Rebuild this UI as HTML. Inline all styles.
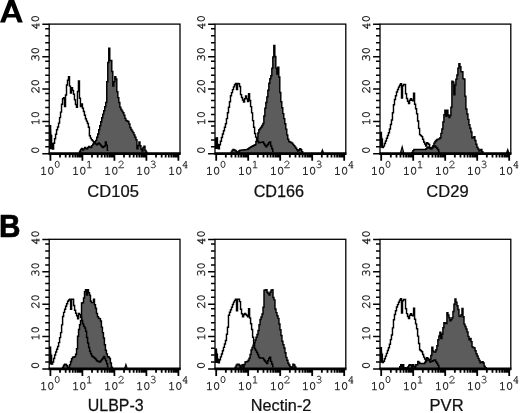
<!DOCTYPE html>
<html><head><meta charset="utf-8"><title>Flow cytometry histograms</title>
<style>html,body{margin:0;padding:0;background:#fff;}body{width:520px;height:413px;overflow:hidden;font-family:"Liberation Sans",sans-serif;}svg{display:block;will-change:transform;filter:grayscale(1);}.s{font-family:"Liberation Sans",sans-serif;fill:#111;}.b{font-family:"Liberation Sans",sans-serif;font-weight:bold;fill:#000;}</style></head><body>
<svg width="520" height="413" viewBox="0 0 520 413">
<rect width="520" height="413" fill="#fff"/>
<defs><g id="d0" fill="none" stroke="#2a2a2a" stroke-width="1.05" stroke-linecap="butt" stroke-linejoin="round"><ellipse cx="3.6" cy="-3.75" rx="2.2" ry="3.5"/></g><g id="d1" fill="none" stroke="#2a2a2a" stroke-width="1.05" stroke-linecap="butt" stroke-linejoin="round"><path d="M1.4 -5.9L3.7 -7.35V0M1.3 0H6.1"/></g><g id="d2" fill="none" stroke="#2a2a2a" stroke-width="1.05" stroke-linecap="butt" stroke-linejoin="round"><path d="M1.2 -5.3C1.2 -8 5.7 -8 5.7 -5.3C5.7 -3.5 2.5 -2.2 0.9 0H6V-0.9"/></g><g id="d3" fill="none" stroke="#2a2a2a" stroke-width="1.05" stroke-linecap="butt" stroke-linejoin="round"><path d="M1.3 -6.5C2.2 -7.9 5.6 -7.8 5.6 -5.6C5.6 -4.2 4.2 -3.9 3 -3.9C4.4 -3.9 6 -3.4 6 -1.9C6 0.4 2 0.5 0.9 -0.9"/></g><g id="d4" fill="none" stroke="#2a2a2a" stroke-width="1.05" stroke-linecap="butt" stroke-linejoin="round"><path d="M4.6 0V-7.3L1 -2.2H6.1M3.2 0H5.9"/></g></defs>
<path fill="#000" fill-rule="evenodd" d="M0 22.4H5L6.94 17.4H15.88L17.8 22.4H22.8L13.82 -1H9.09ZM8.28 13.95H14.56L11.43 5.8Z"/>
<text class="b" transform="translate(-1.05,237.4) scale(0.944,1)" x="0" y="0" font-size="31.5" stroke="#000" stroke-width="0.7">B</text>
<g><path d="M79.60 153.60V151.32H80.61V149.39H81.61V148.50H82.62V150.00H83.62V148.96H84.63V147.50H85.64V148.35H86.64V149.00H87.65V147.56H88.65V146.50H89.66V147.08H90.67V147.50H91.67V145.63H92.68V144.22H93.68V143.00H94.69V141.79H95.70V140.39H96.70V137.18H97.71V133.96H98.71V129.83H99.72V125.71H100.73V121.69H101.73V117.66H102.74V114.14H103.74V110.71H104.75V106.73H105.76V102.45H106.76V81.70H107.77V62.51H108.77V48.10H109.78V60.40H110.79V60.40H111.79V71.47H112.80V86.10H113.80V81.73H114.81V76.60H115.81V78.99H116.82V91.74H117.83V97.63H118.83V102.48H119.84V107.34H120.84V109.47H121.85V111.10H122.86V112.73H123.86V115.11H124.87V118.37H125.87V120.58H126.88V121.07H127.89V121.55H128.89V124.06H129.90V127.49H130.90V129.57H131.91V131.10H132.92V132.64H133.92V134.89H134.93V137.15H135.93V139.75H136.94V148.80H137.95V145.57H138.95V142.00H139.96V145.78H140.96V148.98H141.97V150.90H142.98V147.49H143.98V146.10H144.99V150.57H145.99V152.25H147.00V153.60Z" fill="#5c5c5c" stroke="#000" stroke-width="1.45" stroke-linejoin="miter"/>
<path d="M49.60 125.80H50.59V135.50H51.59V143.40H52.58V149.00H53.58V143.32H54.57V138.84H55.57V134.28H56.56V129.83H57.56V127.09H58.55V123.11H59.55V117.62H60.54V112.13H61.54V104.19H62.53V98.77H63.53V97.80H64.52V106.60H65.52V94.98H66.51V84.95H67.51V80.15H68.50V76.80H69.50V86.13H70.49V93.00H71.49V87.60H72.48V90.37H73.48V94.31H74.47V99.79H75.47V104.42H76.46V107.30H77.46V91.52H78.45V80.90H79.45V98.23H80.44V106.60H81.44V104.00H82.43V108.24H83.43V111.54H84.42V115.27H85.42V118.71H86.41V121.10H87.41V123.53H88.40V127.29H89.40V135.70H90.39V138.11H91.39V139.80H92.38V140.88H93.38V141.87H94.37V142.87H95.37V143.86H96.36V144.80H97.36V143.94H98.35V143.00H99.35V143.97H100.34V145.12H101.34V146.27H102.33V147.50H103.33V146.84H104.32V146.13H105.32V142.00H106.31V145.10H107.31V150.29H108.30" fill="none" stroke="#000" stroke-width="1.45" stroke-linejoin="miter"/>
<polygon points="49.2,125.3 50.8,125.3 51.6,138.0 52.6,149.3 49.2,149.3" fill="#000"/>
<rect x="49.2" y="24.1" width="130.8" height="129.5" fill="none" stroke="#000" stroke-width="1.3"/>
<line x1="48.6" y1="153.6" x2="180.6" y2="153.6" stroke="#000" stroke-width="2.7"/>
<path d="M42.3 153.80h6.9M45.2 146.85h4.0M45.2 139.90h4.0M45.2 132.95h4.0M45.2 126.00h4.0M42.3 121.42h6.9M45.2 114.47h4.0M45.2 107.52h4.0M45.2 100.57h4.0M45.2 93.62h4.0M42.3 89.05h6.9M45.2 82.10h4.0M45.2 75.15h4.0M45.2 68.20h4.0M45.2 61.25h4.0M42.3 56.67h6.9M45.2 49.72h4.0M45.2 42.77h4.0M45.2 35.82h4.0M45.2 28.87h4.0M42.3 24.30h6.9" stroke="#000" stroke-width="1.5" fill="none"/>
<path d="M50.40 153.6v7.2M60.03 153.6v4.0M65.67 153.6v4.0M69.67 153.6v4.0M72.77 153.6v4.0M75.30 153.6v4.0M77.44 153.6v4.0M79.30 153.6v4.0M80.94 153.6v4.0M82.40 153.6v7.2M92.03 153.6v4.0M97.67 153.6v4.0M101.67 153.6v4.0M104.77 153.6v4.0M107.30 153.6v4.0M109.44 153.6v4.0M111.30 153.6v4.0M112.94 153.6v4.0M114.40 153.6v7.2M124.03 153.6v4.0M129.67 153.6v4.0M133.67 153.6v4.0M136.77 153.6v4.0M139.30 153.6v4.0M141.44 153.6v4.0M143.30 153.6v4.0M144.94 153.6v4.0M146.40 153.6v7.2M156.03 153.6v4.0M161.67 153.6v4.0M165.67 153.6v4.0M168.77 153.6v4.0M171.30 153.6v4.0M173.44 153.6v4.0M175.30 153.6v4.0M176.94 153.6v4.0M178.40 153.6v7.2" stroke="#000" stroke-width="1.8" fill="none"/>
<g transform="translate(39.00,150.20) rotate(-90)"><use href="#d0" x="-3.60"/></g>
<g transform="translate(39.00,118.22) rotate(-90)"><use href="#d1" x="-7.20"/><use href="#d0" x="0.00"/></g>
<g transform="translate(39.00,86.25) rotate(-90)"><use href="#d2" x="-7.20"/><use href="#d0" x="0.00"/></g>
<g transform="translate(39.00,54.27) rotate(-90)"><use href="#d3" x="-7.20"/><use href="#d0" x="0.00"/></g>
<g transform="translate(39.00,22.30) rotate(-90)"><use href="#d4" x="-7.20"/><use href="#d0" x="0.00"/></g>
<g transform="translate(40.00,174.50)"><use href="#d1" x="0.00"/><use href="#d0" x="7.20"/></g>
<g transform="translate(53.90,167.80) scale(0.920)"><use href="#d0" x="0.00"/></g>
<g transform="translate(72.00,174.50)"><use href="#d1" x="0.00"/><use href="#d0" x="7.20"/></g>
<g transform="translate(85.90,167.80) scale(0.920)"><use href="#d1" x="0.00"/></g>
<g transform="translate(104.00,174.50)"><use href="#d1" x="0.00"/><use href="#d0" x="7.20"/></g>
<g transform="translate(117.90,167.80) scale(0.920)"><use href="#d2" x="0.00"/></g>
<g transform="translate(136.00,174.50)"><use href="#d1" x="0.00"/><use href="#d0" x="7.20"/></g>
<g transform="translate(149.90,167.80) scale(0.920)"><use href="#d3" x="0.00"/></g>
<g transform="translate(168.00,174.50)"><use href="#d1" x="0.00"/><use href="#d0" x="7.20"/></g>
<g transform="translate(181.90,167.80) scale(0.920)"><use href="#d4" x="0.00"/></g>
<text class="s" font-size="16.5" text-anchor="middle" stroke="#111" stroke-width="0.25" transform="translate(113.10,196.70) scale(1.003,1)" x="0" y="0">CD105</text></g>
<g><path d="M231.00 153.60V152.13H232.00V150.39H232.99V149.50H233.99V149.87H234.98V150.48H235.98V151.48H236.97V152.06H237.97V152.20H238.97V150.72H239.96V150.16H240.96V150.10H241.95V150.03H242.95V149.95H243.95V149.83H244.94V149.72H245.94V149.60H246.93V149.41H247.93V148.74H248.93V148.07H249.92V147.39H250.92V146.74H251.91V146.26H252.91V145.77H253.90V145.29H254.90V144.80H255.90V141.58H256.89V138.36H257.89V132.89H258.88V129.77H259.88V128.51H260.88V127.26H261.87V125.40H262.87V123.46H263.86V115.92H264.86V108.23H265.85V102.42H266.85V96.98H267.85V90.32H268.84V83.26H269.84V78.76H270.83V75.72H271.83V68.24H272.82V57.06H273.82V45.40H274.82V56.51H275.81V68.11H276.81V73.90H277.80V67.10H278.80V76.90H279.80V92.58H280.79V101.77H281.79V107.84H282.78V113.62H283.78V118.63H284.77V123.65H285.77V129.10H286.77V134.89H287.76V139.20H288.76V141.47H289.75V141.93H290.75V142.40H291.75V143.13H292.74V144.36H293.74V145.60H294.73V146.85H295.73V148.30H296.72V149.76H297.72V150.90H298.72V149.96H299.71V148.80H300.71V149.81H301.70V151.80H302.70V153.60Z" fill="#5c5c5c" stroke="#000" stroke-width="1.45" stroke-linejoin="miter"/>
<polygon points="321.2,153.0 322.4,149.8 323.6,153.0" fill="#5c5c5c" stroke="#000" stroke-width="1.1"/>
<path d="M215.40 147.20H216.41V138.00H217.41V144.54H218.42V148.80H219.42V144.77H220.43V141.16H221.43V137.56H222.44V134.09H223.44V130.67H224.45V127.25H225.45V123.84H226.46V118.62H227.46V112.83H228.47V107.25H229.47V101.77H230.48V95.72H231.48V92.64H232.49V89.63H233.49V86.89H234.50V84.83H235.50V83.40H236.51V89.50H237.51V83.40H238.52V83.68H239.52V86.53H240.53V94.64H241.53V97.58H242.54V99.97H243.54V102.00H244.55V98.71H245.56V96.00H246.56V98.87H247.57V101.40H248.57V93.60H249.58V100.48H250.58V106.61H251.59V112.88H252.59V120.64H253.60V127.30H254.60V133.48H255.61V137.12H256.61V139.71H257.62V141.32H258.62V142.70H259.63V142.57H260.63V142.36H261.64V142.16H262.64V142.00H263.65V143.77H264.65V145.18H265.66V146.80H266.66V145.58H267.67V144.16H268.67V142.74H269.68V142.00H270.68V146.09H271.69V148.76H272.69V151.32H273.70" fill="none" stroke="#000" stroke-width="1.45" stroke-linejoin="miter"/>
<polygon points="215.0,137.5 217.6,137.5 218.0,144.0 218.6,149.1 215.0,149.1" fill="#000"/>
<rect x="215.0" y="24.1" width="130.8" height="129.5" fill="none" stroke="#000" stroke-width="1.3"/>
<line x1="214.4" y1="153.6" x2="346.4" y2="153.6" stroke="#000" stroke-width="2.7"/>
<path d="M208.1 153.80h6.9M211.0 146.85h4.0M211.0 139.90h4.0M211.0 132.95h4.0M211.0 126.00h4.0M208.1 121.42h6.9M211.0 114.47h4.0M211.0 107.52h4.0M211.0 100.57h4.0M211.0 93.62h4.0M208.1 89.05h6.9M211.0 82.10h4.0M211.0 75.15h4.0M211.0 68.20h4.0M211.0 61.25h4.0M208.1 56.67h6.9M211.0 49.72h4.0M211.0 42.77h4.0M211.0 35.82h4.0M211.0 28.87h4.0M208.1 24.30h6.9" stroke="#000" stroke-width="1.5" fill="none"/>
<path d="M216.20 153.6v7.2M225.83 153.6v4.0M231.47 153.6v4.0M235.47 153.6v4.0M238.57 153.6v4.0M241.10 153.6v4.0M243.24 153.6v4.0M245.10 153.6v4.0M246.74 153.6v4.0M248.20 153.6v7.2M257.83 153.6v4.0M263.47 153.6v4.0M267.47 153.6v4.0M270.57 153.6v4.0M273.10 153.6v4.0M275.24 153.6v4.0M277.10 153.6v4.0M278.74 153.6v4.0M280.20 153.6v7.2M289.83 153.6v4.0M295.47 153.6v4.0M299.47 153.6v4.0M302.57 153.6v4.0M305.10 153.6v4.0M307.24 153.6v4.0M309.10 153.6v4.0M310.74 153.6v4.0M312.20 153.6v7.2M321.83 153.6v4.0M327.47 153.6v4.0M331.47 153.6v4.0M334.57 153.6v4.0M337.10 153.6v4.0M339.24 153.6v4.0M341.10 153.6v4.0M342.74 153.6v4.0M344.20 153.6v7.2" stroke="#000" stroke-width="1.8" fill="none"/>
<g transform="translate(204.80,150.20) rotate(-90)"><use href="#d0" x="-3.60"/></g>
<g transform="translate(204.80,118.22) rotate(-90)"><use href="#d1" x="-7.20"/><use href="#d0" x="0.00"/></g>
<g transform="translate(204.80,86.25) rotate(-90)"><use href="#d2" x="-7.20"/><use href="#d0" x="0.00"/></g>
<g transform="translate(204.80,54.27) rotate(-90)"><use href="#d3" x="-7.20"/><use href="#d0" x="0.00"/></g>
<g transform="translate(204.80,22.30) rotate(-90)"><use href="#d4" x="-7.20"/><use href="#d0" x="0.00"/></g>
<g transform="translate(205.80,174.50)"><use href="#d1" x="0.00"/><use href="#d0" x="7.20"/></g>
<g transform="translate(219.70,167.80) scale(0.920)"><use href="#d0" x="0.00"/></g>
<g transform="translate(237.80,174.50)"><use href="#d1" x="0.00"/><use href="#d0" x="7.20"/></g>
<g transform="translate(251.70,167.80) scale(0.920)"><use href="#d1" x="0.00"/></g>
<g transform="translate(269.80,174.50)"><use href="#d1" x="0.00"/><use href="#d0" x="7.20"/></g>
<g transform="translate(283.70,167.80) scale(0.920)"><use href="#d2" x="0.00"/></g>
<g transform="translate(301.80,174.50)"><use href="#d1" x="0.00"/><use href="#d0" x="7.20"/></g>
<g transform="translate(315.70,167.80) scale(0.920)"><use href="#d3" x="0.00"/></g>
<g transform="translate(333.80,174.50)"><use href="#d1" x="0.00"/><use href="#d0" x="7.20"/></g>
<g transform="translate(347.70,167.80) scale(0.920)"><use href="#d4" x="0.00"/></g>
<text class="s" font-size="16.5" text-anchor="middle" stroke="#111" stroke-width="0.25" transform="translate(278.90,196.70) scale(0.983,1)" x="0" y="0">CD166</text></g>
<g><path d="M411.90 153.60V152.55H412.90V150.64H413.90V149.50H414.90V149.50H415.90V149.50H416.90V149.50H417.90V149.50H418.90V149.50H419.90V149.50H420.90V149.50H421.90V149.50H422.90V149.50H423.90V149.50H424.90V149.50H425.90V148.60H426.90V147.60H427.90V147.00H428.90V147.93H429.90V148.60H430.90V149.00H431.90V147.76H432.90V145.66H433.90V143.13H434.90V141.40H435.90V140.40H436.90V139.40H437.90V139.10H438.90V138.88H439.90V137.81H440.90V133.38H441.90V128.94H442.90V121.96H443.90V114.64H444.90V110.20H445.90V116.30H446.90V110.20H447.90V115.09H448.90V117.60H449.90V115.45H450.90V107.20H451.90V81.20H452.90V82.13H453.90V94.80H454.90V85.09H455.90V79.31H456.90V75.06H457.90V68.28H458.90V63.68H459.90V66.60H460.90V71.70H461.90V71.70H462.90V78.60H463.90V79.10H464.90V96.33H465.90V109.07H466.90V113.93H467.90V119.37H468.90V124.76H469.90V128.33H470.90V131.90H471.90V138.00H472.90V137.46H473.90V136.60H474.90V140.42H475.90V144.28H476.90V147.21H477.90V149.03H478.90V150.90H479.90V150.30H480.90V149.50H481.90V151.65H482.90V153.60Z" fill="#5c5c5c" stroke="#000" stroke-width="1.45" stroke-linejoin="miter"/>
<polygon points="400.4,153.0 402.2,146.7 403.8,153.0" fill="#5c5c5c" stroke="#000" stroke-width="1.1"/>
<polygon points="506.5,153.0 507.7,149.5 508.9,153.0" fill="#5c5c5c" stroke="#000" stroke-width="1.1"/>
<path d="M380.40 132.50H381.41V139.09H382.41V147.40H383.42V146.10H384.42V143.56H385.43V141.03H386.43V138.27H387.44V135.46H388.44V132.66H389.45V129.07H390.45V124.53H391.46V119.99H392.46V112.76H393.47V104.67H394.47V99.48H395.48V95.72H396.48V91.96H397.49V89.53H398.49V87.11H399.50V85.21H400.50V83.70H401.51V98.00H402.51V85.69H403.52V84.40H404.52V84.40H405.53V93.70H406.53V98.51H407.54V101.33H408.54V103.40H409.55V100.22H410.55V98.70H411.56V100.16H412.56V100.70H413.57V93.20H414.57V104.20H415.58V108.78H416.58V113.72H417.59V121.00H418.59V128.38H419.60V134.60H420.60V135.61H421.61V136.63H422.61V139.34H423.62V142.04H424.62V143.95H425.63V146.00H426.63V142.70H427.64V143.41H428.64V144.53H429.65V148.10H430.65V147.78H431.66V147.45H432.66V146.95H433.67V146.43H434.67V146.00H435.68V147.23H436.68V148.27H437.69V149.83H438.69V151.94H439.70" fill="none" stroke="#000" stroke-width="1.45" stroke-linejoin="miter"/>
<polygon points="380.0,132.0 381.8,132.0 382.4,141.0 383.2,147.7 380.0,147.7" fill="#000"/>
<rect x="380.0" y="24.1" width="130.8" height="129.5" fill="none" stroke="#000" stroke-width="1.3"/>
<line x1="379.4" y1="153.6" x2="511.4" y2="153.6" stroke="#000" stroke-width="2.7"/>
<path d="M373.1 153.80h6.9M376.0 146.85h4.0M376.0 139.90h4.0M376.0 132.95h4.0M376.0 126.00h4.0M373.1 121.42h6.9M376.0 114.47h4.0M376.0 107.52h4.0M376.0 100.57h4.0M376.0 93.62h4.0M373.1 89.05h6.9M376.0 82.10h4.0M376.0 75.15h4.0M376.0 68.20h4.0M376.0 61.25h4.0M373.1 56.67h6.9M376.0 49.72h4.0M376.0 42.77h4.0M376.0 35.82h4.0M376.0 28.87h4.0M373.1 24.30h6.9" stroke="#000" stroke-width="1.5" fill="none"/>
<path d="M381.20 153.6v7.2M390.83 153.6v4.0M396.47 153.6v4.0M400.47 153.6v4.0M403.57 153.6v4.0M406.10 153.6v4.0M408.24 153.6v4.0M410.10 153.6v4.0M411.74 153.6v4.0M413.20 153.6v7.2M422.83 153.6v4.0M428.47 153.6v4.0M432.47 153.6v4.0M435.57 153.6v4.0M438.10 153.6v4.0M440.24 153.6v4.0M442.10 153.6v4.0M443.74 153.6v4.0M445.20 153.6v7.2M454.83 153.6v4.0M460.47 153.6v4.0M464.47 153.6v4.0M467.57 153.6v4.0M470.10 153.6v4.0M472.24 153.6v4.0M474.10 153.6v4.0M475.74 153.6v4.0M477.20 153.6v7.2M486.83 153.6v4.0M492.47 153.6v4.0M496.47 153.6v4.0M499.57 153.6v4.0M502.10 153.6v4.0M504.24 153.6v4.0M506.10 153.6v4.0M507.74 153.6v4.0M509.20 153.6v7.2" stroke="#000" stroke-width="1.8" fill="none"/>
<g transform="translate(369.80,150.20) rotate(-90)"><use href="#d0" x="-3.60"/></g>
<g transform="translate(369.80,118.22) rotate(-90)"><use href="#d1" x="-7.20"/><use href="#d0" x="0.00"/></g>
<g transform="translate(369.80,86.25) rotate(-90)"><use href="#d2" x="-7.20"/><use href="#d0" x="0.00"/></g>
<g transform="translate(369.80,54.27) rotate(-90)"><use href="#d3" x="-7.20"/><use href="#d0" x="0.00"/></g>
<g transform="translate(369.80,22.30) rotate(-90)"><use href="#d4" x="-7.20"/><use href="#d0" x="0.00"/></g>
<g transform="translate(370.80,174.50)"><use href="#d1" x="0.00"/><use href="#d0" x="7.20"/></g>
<g transform="translate(384.70,167.80) scale(0.920)"><use href="#d0" x="0.00"/></g>
<g transform="translate(402.80,174.50)"><use href="#d1" x="0.00"/><use href="#d0" x="7.20"/></g>
<g transform="translate(416.70,167.80) scale(0.920)"><use href="#d1" x="0.00"/></g>
<g transform="translate(434.80,174.50)"><use href="#d1" x="0.00"/><use href="#d0" x="7.20"/></g>
<g transform="translate(448.70,167.80) scale(0.920)"><use href="#d2" x="0.00"/></g>
<g transform="translate(466.80,174.50)"><use href="#d1" x="0.00"/><use href="#d0" x="7.20"/></g>
<g transform="translate(480.70,167.80) scale(0.920)"><use href="#d3" x="0.00"/></g>
<g transform="translate(498.80,174.50)"><use href="#d1" x="0.00"/><use href="#d0" x="7.20"/></g>
<g transform="translate(512.70,167.80) scale(0.920)"><use href="#d4" x="0.00"/></g>
<text class="s" font-size="16.5" text-anchor="middle" stroke="#111" stroke-width="0.25" transform="translate(447.50,196.70) scale(1.003,1)" x="0" y="0">CD29</text></g>
<g><path d="M62.60 368.80V367.23H63.60V365.28H64.59V364.10H65.59V364.59H66.58V365.73H67.58V368.20H68.58V367.15H69.57V364.63H70.57V361.41H71.56V358.83H72.56V357.24H73.56V357.02H74.55V356.80H75.55V354.32H76.54V348.82H77.54V336.33H78.54V329.42H79.53V324.72H80.53V320.80H81.52V303.08H82.52V302.79H83.52V297.94H84.51V291.67H85.51V289.70H86.50V295.10H87.50V289.70H88.50V292.62H89.49V295.10H90.49V301.18H91.48V302.60H92.48V302.60H93.48V299.20H94.47V304.83H95.47V308.18H96.46V313.35H97.46V316.64H98.46V318.31H99.45V318.61H100.45V320.95H101.44V327.14H102.44V332.61H103.44V338.04H104.43V344.71H105.43V350.27H106.42V353.87H107.42V356.67H108.42V357.07H109.41V358.55H110.41V362.99H111.40V367.29H112.40V368.80Z" fill="#5c5c5c" stroke="#000" stroke-width="1.45" stroke-linejoin="miter"/>
<polygon points="124.7,368.2 125.9,364.4 127.1,368.2" fill="#5c5c5c" stroke="#000" stroke-width="1.1"/>
<path d="M49.60 347.20H50.60V355.32H51.60V364.10H52.60V361.99H53.60V358.47H54.60V354.95H55.60V352.09H56.60V349.29H57.60V346.50H58.60V342.60H59.60V337.60H60.60V332.60H61.60V324.88H62.60V316.48H63.60V312.37H64.60V309.33H65.60V306.34H66.60V303.77H67.60V301.20H68.60V299.95H69.60V299.20H70.60V309.30H71.60V299.20H72.60V299.20H73.60V305.54H74.60V310.34H75.60V313.20H76.60V315.69H77.60V318.80H78.60V313.40H79.60V314.60H80.60V317.26H81.60V320.42H82.60V323.66H83.60V326.26H84.60V327.91H85.60V331.34H86.60V337.44H87.60V342.91H88.60V347.43H89.60V351.34H90.60V353.79H91.60V356.07H92.60V356.73H93.60V357.40H94.60V358.29H95.60V359.52H96.60V360.75H97.60V361.30H98.60V361.67H99.60V362.00H100.60V360.70H101.60V359.51H102.60V358.23H103.60V356.50H104.60V358.40H105.60V360.79H106.60V363.69H107.60V366.78H108.60" fill="none" stroke="#000" stroke-width="1.45" stroke-linejoin="miter"/>
<polygon points="49.2,346.7 50.8,346.7 51.4,356.0 52.3,364.4 49.2,364.4" fill="#000"/>
<rect x="49.2" y="239.3" width="130.8" height="129.5" fill="none" stroke="#000" stroke-width="1.3"/>
<line x1="48.6" y1="368.8" x2="180.6" y2="368.8" stroke="#000" stroke-width="2.7"/>
<path d="M42.3 369.00h6.9M45.2 362.05h4.0M45.2 355.10h4.0M45.2 348.15h4.0M45.2 341.20h4.0M42.3 336.62h6.9M45.2 329.67h4.0M45.2 322.72h4.0M45.2 315.77h4.0M45.2 308.82h4.0M42.3 304.25h6.9M45.2 297.30h4.0M45.2 290.35h4.0M45.2 283.40h4.0M45.2 276.45h4.0M42.3 271.87h6.9M45.2 264.92h4.0M45.2 257.97h4.0M45.2 251.02h4.0M45.2 244.07h4.0M42.3 239.50h6.9" stroke="#000" stroke-width="1.5" fill="none"/>
<path d="M50.40 368.8v7.2M60.03 368.8v4.0M65.67 368.8v4.0M69.67 368.8v4.0M72.77 368.8v4.0M75.30 368.8v4.0M77.44 368.8v4.0M79.30 368.8v4.0M80.94 368.8v4.0M82.40 368.8v7.2M92.03 368.8v4.0M97.67 368.8v4.0M101.67 368.8v4.0M104.77 368.8v4.0M107.30 368.8v4.0M109.44 368.8v4.0M111.30 368.8v4.0M112.94 368.8v4.0M114.40 368.8v7.2M124.03 368.8v4.0M129.67 368.8v4.0M133.67 368.8v4.0M136.77 368.8v4.0M139.30 368.8v4.0M141.44 368.8v4.0M143.30 368.8v4.0M144.94 368.8v4.0M146.40 368.8v7.2M156.03 368.8v4.0M161.67 368.8v4.0M165.67 368.8v4.0M168.77 368.8v4.0M171.30 368.8v4.0M173.44 368.8v4.0M175.30 368.8v4.0M176.94 368.8v4.0M178.40 368.8v7.2" stroke="#000" stroke-width="1.8" fill="none"/>
<g transform="translate(39.00,365.40) rotate(-90)"><use href="#d0" x="-3.60"/></g>
<g transform="translate(39.00,333.42) rotate(-90)"><use href="#d1" x="-7.20"/><use href="#d0" x="0.00"/></g>
<g transform="translate(39.00,301.45) rotate(-90)"><use href="#d2" x="-7.20"/><use href="#d0" x="0.00"/></g>
<g transform="translate(39.00,269.47) rotate(-90)"><use href="#d3" x="-7.20"/><use href="#d0" x="0.00"/></g>
<g transform="translate(39.00,237.50) rotate(-90)"><use href="#d4" x="-7.20"/><use href="#d0" x="0.00"/></g>
<g transform="translate(40.00,389.70)"><use href="#d1" x="0.00"/><use href="#d0" x="7.20"/></g>
<g transform="translate(53.90,383.00) scale(0.920)"><use href="#d0" x="0.00"/></g>
<g transform="translate(72.00,389.70)"><use href="#d1" x="0.00"/><use href="#d0" x="7.20"/></g>
<g transform="translate(85.90,383.00) scale(0.920)"><use href="#d1" x="0.00"/></g>
<g transform="translate(104.00,389.70)"><use href="#d1" x="0.00"/><use href="#d0" x="7.20"/></g>
<g transform="translate(117.90,383.00) scale(0.920)"><use href="#d2" x="0.00"/></g>
<g transform="translate(136.00,389.70)"><use href="#d1" x="0.00"/><use href="#d0" x="7.20"/></g>
<g transform="translate(149.90,383.00) scale(0.920)"><use href="#d3" x="0.00"/></g>
<g transform="translate(168.00,389.70)"><use href="#d1" x="0.00"/><use href="#d0" x="7.20"/></g>
<g transform="translate(181.90,383.00) scale(0.920)"><use href="#d4" x="0.00"/></g>
<text class="s" font-size="16.5" text-anchor="middle" stroke="#111" stroke-width="0.25" transform="translate(115.65,411.15) scale(0.966,1)" x="0" y="0">ULBP-3</text></g>
<g><path d="M235.10 368.80V367.18H236.10V365.14H237.09V364.10H238.09V364.10H239.09V365.28H240.08V367.50H241.08V366.04H242.08V364.80H243.07V367.50H244.07V364.53H245.07V362.01H246.06V361.76H247.06V361.51H248.06V360.26H249.05V358.22H250.05V354.47H251.05V350.00H252.04V347.58H253.04V345.19H254.04V342.79H255.03V340.02H256.03V337.22H257.03V334.48H258.02V330.45H259.02V324.70H260.02V319.48H261.01V317.03H262.01V314.00H263.01V307.23H264.00V290.30H265.00V289.97H266.00V289.70H267.00V292.18H267.99V293.54H268.99V295.10H269.99V292.27H270.98V290.21H271.98V289.70H272.98V297.43H273.97V299.85H274.97V309.00H275.97V312.61H276.96V315.75H277.96V318.39H278.96V324.01H279.95V329.78H280.95V335.57H281.95V341.25H282.94V344.64H283.94V348.08H284.94V352.76H285.93V357.39H286.93V360.33H287.93V363.28H288.92V365.02H289.92V366.66H290.92V367.12H291.91V367.50H292.91V364.10H293.91V365.08H294.90V367.03H295.90V368.80Z" fill="#5c5c5c" stroke="#000" stroke-width="1.45" stroke-linejoin="miter"/>
<path d="M215.40 349.20H216.41V354.26H217.41V359.12H218.42V362.80H219.42V359.66H220.43V356.85H221.43V354.04H222.44V350.79H223.44V347.37H224.45V343.95H225.45V340.54H226.46V334.31H227.46V327.18H228.47V315.23H229.47V312.34H230.48V309.81H231.48V307.23H232.49V304.52H233.49V302.10H234.50V300.39H235.50V299.20H236.51V310.70H237.51V299.20H238.52V299.20H239.52V301.60H240.53V309.18H241.53V313.76H242.54V316.80H243.54V314.74H244.55V313.40H245.56V314.42H246.56V315.46H247.57V316.80H248.57V308.70H249.58V317.95H250.58V323.68H251.59V329.58H252.59V337.34H253.60V344.11H254.60V348.68H255.61V350.62H256.61V352.56H257.62V354.76H258.62V357.12H259.63V358.00H260.63V358.00H261.64V358.00H262.64V358.33H263.65V359.68H264.65V361.03H265.66V362.37H266.66V363.50H267.67V360.81H268.67V358.50H269.68V357.30H270.68V361.39H271.69V364.08H272.69V366.69H273.70" fill="none" stroke="#000" stroke-width="1.45" stroke-linejoin="miter"/>
<polygon points="215.0,348.7 216.9,348.7 217.6,357.0 218.6,363.1 215.0,363.1" fill="#000"/>
<rect x="215.0" y="239.3" width="130.8" height="129.5" fill="none" stroke="#000" stroke-width="1.3"/>
<line x1="214.4" y1="368.8" x2="346.4" y2="368.8" stroke="#000" stroke-width="2.7"/>
<path d="M208.1 369.00h6.9M211.0 362.05h4.0M211.0 355.10h4.0M211.0 348.15h4.0M211.0 341.20h4.0M208.1 336.62h6.9M211.0 329.67h4.0M211.0 322.72h4.0M211.0 315.77h4.0M211.0 308.82h4.0M208.1 304.25h6.9M211.0 297.30h4.0M211.0 290.35h4.0M211.0 283.40h4.0M211.0 276.45h4.0M208.1 271.87h6.9M211.0 264.92h4.0M211.0 257.97h4.0M211.0 251.02h4.0M211.0 244.07h4.0M208.1 239.50h6.9" stroke="#000" stroke-width="1.5" fill="none"/>
<path d="M216.20 368.8v7.2M225.83 368.8v4.0M231.47 368.8v4.0M235.47 368.8v4.0M238.57 368.8v4.0M241.10 368.8v4.0M243.24 368.8v4.0M245.10 368.8v4.0M246.74 368.8v4.0M248.20 368.8v7.2M257.83 368.8v4.0M263.47 368.8v4.0M267.47 368.8v4.0M270.57 368.8v4.0M273.10 368.8v4.0M275.24 368.8v4.0M277.10 368.8v4.0M278.74 368.8v4.0M280.20 368.8v7.2M289.83 368.8v4.0M295.47 368.8v4.0M299.47 368.8v4.0M302.57 368.8v4.0M305.10 368.8v4.0M307.24 368.8v4.0M309.10 368.8v4.0M310.74 368.8v4.0M312.20 368.8v7.2M321.83 368.8v4.0M327.47 368.8v4.0M331.47 368.8v4.0M334.57 368.8v4.0M337.10 368.8v4.0M339.24 368.8v4.0M341.10 368.8v4.0M342.74 368.8v4.0M344.20 368.8v7.2" stroke="#000" stroke-width="1.8" fill="none"/>
<g transform="translate(204.80,365.40) rotate(-90)"><use href="#d0" x="-3.60"/></g>
<g transform="translate(204.80,333.42) rotate(-90)"><use href="#d1" x="-7.20"/><use href="#d0" x="0.00"/></g>
<g transform="translate(204.80,301.45) rotate(-90)"><use href="#d2" x="-7.20"/><use href="#d0" x="0.00"/></g>
<g transform="translate(204.80,269.47) rotate(-90)"><use href="#d3" x="-7.20"/><use href="#d0" x="0.00"/></g>
<g transform="translate(204.80,237.50) rotate(-90)"><use href="#d4" x="-7.20"/><use href="#d0" x="0.00"/></g>
<g transform="translate(205.80,389.70)"><use href="#d1" x="0.00"/><use href="#d0" x="7.20"/></g>
<g transform="translate(219.70,383.00) scale(0.920)"><use href="#d0" x="0.00"/></g>
<g transform="translate(237.80,389.70)"><use href="#d1" x="0.00"/><use href="#d0" x="7.20"/></g>
<g transform="translate(251.70,383.00) scale(0.920)"><use href="#d1" x="0.00"/></g>
<g transform="translate(269.80,389.70)"><use href="#d1" x="0.00"/><use href="#d0" x="7.20"/></g>
<g transform="translate(283.70,383.00) scale(0.920)"><use href="#d2" x="0.00"/></g>
<g transform="translate(301.80,389.70)"><use href="#d1" x="0.00"/><use href="#d0" x="7.20"/></g>
<g transform="translate(315.70,383.00) scale(0.920)"><use href="#d3" x="0.00"/></g>
<g transform="translate(333.80,389.70)"><use href="#d1" x="0.00"/><use href="#d0" x="7.20"/></g>
<g transform="translate(347.70,383.00) scale(0.920)"><use href="#d4" x="0.00"/></g>
<text class="s" font-size="16.5" text-anchor="middle" stroke="#111" stroke-width="0.25" transform="translate(281.10,411.15) scale(0.986,1)" x="0" y="0">Nectin-2</text></g>
<g><path d="M399.70 368.80V366.76H400.70V364.80H401.71V367.00H402.71V364.80H403.72V368.00H404.72V367.90H405.73V367.75H406.73V367.61H407.74V367.07H408.74V365.26H409.75V364.80H410.75V364.94H411.76V367.50H412.76V364.80H413.77V366.39H414.77V367.50H415.77V364.80H416.78V364.80H417.78V361.40H418.79V362.57H419.79V363.50H420.80V363.50H421.80V363.50H422.81V363.50H423.81V363.50H424.82V362.20H425.82V360.00H426.83V360.00H427.83V360.00H428.83V360.00H429.84V359.45H430.84V355.58H431.85V347.20H432.85V351.02H433.86V351.90H434.86V351.90H435.87V349.84H436.87V345.71H437.88V339.82H438.88V336.01H439.89V332.20H440.89V338.40H441.90V334.03H442.90V327.73H443.90V322.70H444.91V323.08H445.91V323.40H446.92V312.60H447.92V314.96H448.93V317.70H449.93V320.70H450.94V319.44H451.94V317.73H452.95V311.49H453.95V304.19H454.96V299.00H455.96V302.11H456.97V305.77H457.97V309.52H458.97V316.13H459.98V316.60H460.98V314.70H461.99V308.50H462.99V316.76H464.00V324.12H465.00V326.54H466.01V329.03H467.01V332.04H468.02V336.39H469.02V339.70H470.03V338.40H471.03V341.67H472.03V346.87H473.04V347.53H474.04V347.88H475.05V350.75H476.05V353.67H477.06V356.02H478.06V358.38H479.07V360.48H480.07V362.80H481.08V362.29H482.08V361.70H483.09V362.95H484.09V366.14H485.10V367.84H486.10V368.80Z" fill="#5c5c5c" stroke="#000" stroke-width="1.45" stroke-linejoin="miter"/>
<path d="M380.40 347.60H381.41V354.19H382.41V362.50H383.42V361.20H384.42V358.66H385.43V356.13H386.43V353.37H387.44V350.56H388.44V347.76H389.45V344.17H390.45V339.63H391.46V335.09H392.46V327.86H393.47V319.77H394.47V314.58H395.48V310.82H396.48V307.06H397.49V304.63H398.49V302.21H399.50V300.31H400.50V298.80H401.51V313.10H402.51V300.79H403.52V299.50H404.52V299.50H405.53V308.80H406.53V313.61H407.54V316.43H408.54V318.50H409.55V315.32H410.55V313.80H411.56V315.26H412.56V315.80H413.57V308.30H414.57V319.30H415.58V323.88H416.58V328.82H417.59V336.10H418.59V343.48H419.60V349.70H420.60V350.71H421.61V351.73H422.61V354.44H423.62V357.14H424.62V359.05H425.63V361.10H426.63V357.80H427.64V358.51H428.64V359.63H429.65V362.10H430.65V361.64H431.66V361.16H432.66V360.73H433.67V360.33H434.67V360.00H435.68V361.80H436.68V363.32H437.69V365.11H438.69V367.17H439.70" fill="none" stroke="#000" stroke-width="1.45" stroke-linejoin="miter"/>
<polygon points="380.0,347.1 381.8,347.1 382.4,356.1 383.2,362.8 380.0,362.8" fill="#000"/>
<rect x="380.0" y="239.3" width="130.8" height="129.5" fill="none" stroke="#000" stroke-width="1.3"/>
<line x1="379.4" y1="368.8" x2="511.4" y2="368.8" stroke="#000" stroke-width="2.7"/>
<path d="M373.1 369.00h6.9M376.0 362.05h4.0M376.0 355.10h4.0M376.0 348.15h4.0M376.0 341.20h4.0M373.1 336.62h6.9M376.0 329.67h4.0M376.0 322.72h4.0M376.0 315.77h4.0M376.0 308.82h4.0M373.1 304.25h6.9M376.0 297.30h4.0M376.0 290.35h4.0M376.0 283.40h4.0M376.0 276.45h4.0M373.1 271.87h6.9M376.0 264.92h4.0M376.0 257.97h4.0M376.0 251.02h4.0M376.0 244.07h4.0M373.1 239.50h6.9" stroke="#000" stroke-width="1.5" fill="none"/>
<path d="M381.20 368.8v7.2M390.83 368.8v4.0M396.47 368.8v4.0M400.47 368.8v4.0M403.57 368.8v4.0M406.10 368.8v4.0M408.24 368.8v4.0M410.10 368.8v4.0M411.74 368.8v4.0M413.20 368.8v7.2M422.83 368.8v4.0M428.47 368.8v4.0M432.47 368.8v4.0M435.57 368.8v4.0M438.10 368.8v4.0M440.24 368.8v4.0M442.10 368.8v4.0M443.74 368.8v4.0M445.20 368.8v7.2M454.83 368.8v4.0M460.47 368.8v4.0M464.47 368.8v4.0M467.57 368.8v4.0M470.10 368.8v4.0M472.24 368.8v4.0M474.10 368.8v4.0M475.74 368.8v4.0M477.20 368.8v7.2M486.83 368.8v4.0M492.47 368.8v4.0M496.47 368.8v4.0M499.57 368.8v4.0M502.10 368.8v4.0M504.24 368.8v4.0M506.10 368.8v4.0M507.74 368.8v4.0M509.20 368.8v7.2" stroke="#000" stroke-width="1.8" fill="none"/>
<g transform="translate(369.80,365.40) rotate(-90)"><use href="#d0" x="-3.60"/></g>
<g transform="translate(369.80,333.42) rotate(-90)"><use href="#d1" x="-7.20"/><use href="#d0" x="0.00"/></g>
<g transform="translate(369.80,301.45) rotate(-90)"><use href="#d2" x="-7.20"/><use href="#d0" x="0.00"/></g>
<g transform="translate(369.80,269.47) rotate(-90)"><use href="#d3" x="-7.20"/><use href="#d0" x="0.00"/></g>
<g transform="translate(369.80,237.50) rotate(-90)"><use href="#d4" x="-7.20"/><use href="#d0" x="0.00"/></g>
<g transform="translate(370.80,389.70)"><use href="#d1" x="0.00"/><use href="#d0" x="7.20"/></g>
<g transform="translate(384.70,383.00) scale(0.920)"><use href="#d0" x="0.00"/></g>
<g transform="translate(402.80,389.70)"><use href="#d1" x="0.00"/><use href="#d0" x="7.20"/></g>
<g transform="translate(416.70,383.00) scale(0.920)"><use href="#d1" x="0.00"/></g>
<g transform="translate(434.80,389.70)"><use href="#d1" x="0.00"/><use href="#d0" x="7.20"/></g>
<g transform="translate(448.70,383.00) scale(0.920)"><use href="#d2" x="0.00"/></g>
<g transform="translate(466.80,389.70)"><use href="#d1" x="0.00"/><use href="#d0" x="7.20"/></g>
<g transform="translate(480.70,383.00) scale(0.920)"><use href="#d3" x="0.00"/></g>
<g transform="translate(498.80,389.70)"><use href="#d1" x="0.00"/><use href="#d0" x="7.20"/></g>
<g transform="translate(512.70,383.00) scale(0.920)"><use href="#d4" x="0.00"/></g>
<text class="s" font-size="16.5" text-anchor="middle" stroke="#111" stroke-width="0.25" transform="translate(446.60,411.15) scale(1.003,1)" x="0" y="0">PVR</text></g>
</svg></body></html>
